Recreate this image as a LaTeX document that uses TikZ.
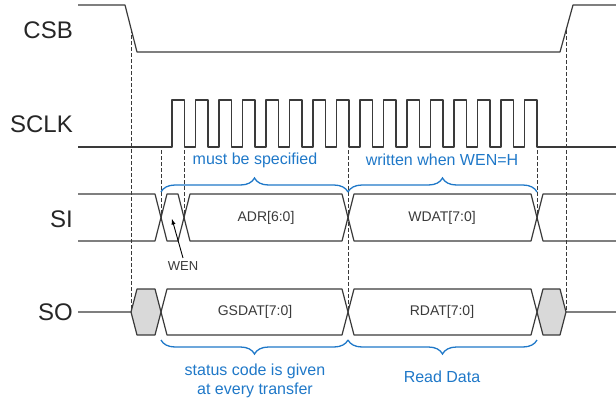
\documentclass[tikz,border=0pt]{standalone}
\usepackage{fontspec}
\setmainfont{Liberation Sans}
\usepackage{xcolor}
\usepackage{tikz}
\usetikzlibrary{decorations.pathreplacing}
\definecolor{trait}{HTML}{3A3A3A}
\definecolor{bleu}{HTML}{1F78C8}
\definecolor{gris}{HTML}{D9D9D9}

\begin{document}
\begin{tikzpicture}[x=1pt,y=-1pt]
% Styles
\tikzstyle{signal}=[trait,line width=1.2pt,line join=round]
\tikzstyle{pointille}=[trait,line width=1pt,dash pattern=on 3.5pt off 2.5pt]
\tikzstyle{zone}=[fill=gris,draw=none]
\tikzstyle{accolade}=[bleu,line width=1.3pt,decorate,decoration={brace,amplitude=14pt}]
\tikzstyle{nom}=[anchor=east,inner sep=0pt,text=black!85,font=\fontsize{24}{24}\selectfont]
\tikzstyle{donnee}=[text=trait,font=\fontsize{14}{14}\selectfont]
\tikzstyle{commentaire}=[text=bleu,align=center,font=\fontsize{16}{19}\selectfont]
\tikzstyle{fleche}=[->,>=latex,black,line width=0.9pt]
% Dimensions
\def\Periode{23.5}
\def\Haut{12.5}
\useasboundingbox (0,0) rectangle (616,399);
% Noms des signaux
\node[nom] (csb) at (73,30) {CSB};
\node[nom] (sclk) at (73,124) {SCLK};
\node[nom] (si) at (73,219) {SI};
\node[nom] (so) at (73,312) {SO};
% Pointilles
\draw[pointille] (131,29) -- (131,312);
\draw[pointille] (566,30) -- (566,312);
\draw[pointille] (161,150) -- (161,218);
\draw[pointille] (184,150) -- (184,218);
\draw[pointille] (348,150) -- (348,312);
\draw[pointille] (537,150) -- (537,218);
% CSB
\draw[signal] (78,5) -- (125,5) -- (137,52) -- (560,52) -- (573,5) -- (616,5);
% SCLK
\draw[signal] (78,147) foreach \i in {0,...,15} {
  -- ({172+\Periode*\i},147) -- ({172+\Periode*\i},100)
  -- ({172+\Haut+\Periode*\i},100) -- ({172+\Haut+\Periode*\i},147) } -- (616,147);
% SI
\draw[signal] (78,194) -- (155,194) -- (167,241) -- (178,241) -- (190,194) -- (342,194)
  -- (354,241) -- (531,241) -- (543,194) -- (616,194);
\draw[signal] (78,241) -- (155,241) -- (167,194) -- (178,194) -- (190,241) -- (342,241)
  -- (354,194) -- (531,194) -- (543,241) -- (616,241);
% SO
\fill[zone] (131,312) -- (137,289) -- (155,289) -- (161,312) -- (155,335) -- (137,335) -- cycle;
\fill[zone] (537,312) -- (543,289) -- (560,289) -- (566,312) -- (560,335) -- (543,335) -- cycle;
\draw[signal] (78,312) -- (131,312) -- (137,289) -- (155,289) -- (167,335) -- (342,335)
  -- (354,289) -- (531,289) -- (543,335) -- (560,335) -- (566,312) -- (616,312);
\draw[signal] (131,312) -- (137,335) -- (155,335) -- (167,289) -- (342,289)
  -- (354,335) -- (531,335) -- (543,289) -- (560,289) -- (566,312);
% Donnees
\node[donnee] (adr) at (266,218) {ADR[6:0]};
\node[donnee] (wdat) at (442,218) {WDAT[7:0]};
\node[donnee] (gsdat) at (255,312) {GSDAT[7:0]};
\node[donnee] (rdat) at (442,312) {RDAT[7:0]};
% WEN
\node[donnee,font=\fontsize{13}{13}\selectfont] (wen) at (183,266) {WEN};
\coordinate (cible) at (172,219);
\draw[fleche] (wen.north) -- (cible);
% Accolades
\draw[accolade] (161,192) -- (348,192);
\draw[accolade] (348,192) -- (537,192);
\draw[accolade,decoration={mirror}] (161,340) -- (348,340);
\draw[accolade,decoration={mirror}] (348,340) -- (537,340);
\node[commentaire] (spec) at (255,160) {must be specified};
\node[commentaire] (ecrit) at (442,160) {written when WEN=H};
\node[commentaire] (statut) at (255,381) {status code is given\\at every transfer};
\node[commentaire] (lecture) at (442,377) {Read Data};
\end{tikzpicture}
\end{document}
